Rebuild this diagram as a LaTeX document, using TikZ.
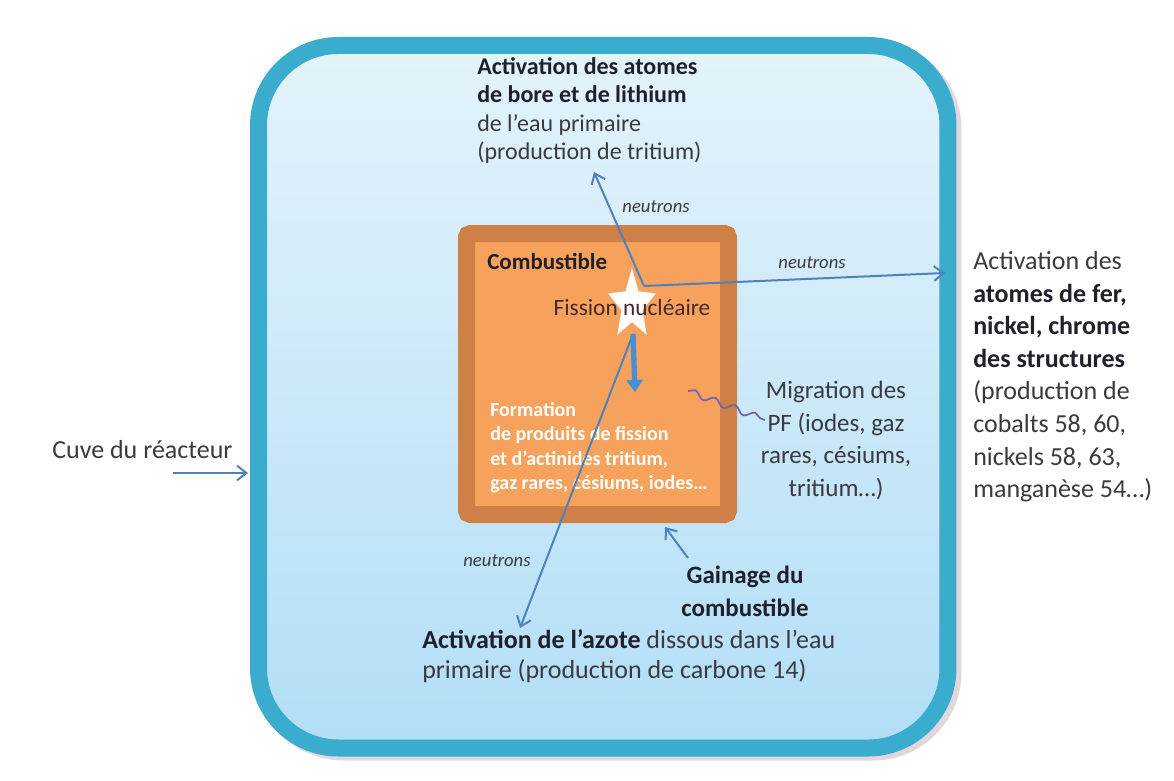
\documentclass[tikz,border=0pt]{standalone}
\usepackage{fontspec}
\setmainfont{Carlito}
\usetikzlibrary{arrows.meta,decorations.pathmorphing}
\definecolor{vessel}{RGB}{58,172,206}
\definecolor{watertop}{RGB}{228,243,251}
\definecolor{waterbot}{RGB}{178,222,246}
\definecolor{clad}{RGB}{206,128,70}
\definecolor{fuel}{RGB}{247,162,92}
\definecolor{arr}{RGB}{79,129,189}
\definecolor{thick}{RGB}{72,142,210}
\definecolor{txt}{RGB}{58,58,64}
\definecolor{txtb}{RGB}{32,32,44}
\definecolor{wave}{RGB}{112,100,175}
\definecolor{fistxt}{RGB}{70,40,40}
\definecolor{shadow}{RGB}{225,215,220}
\begin{document}
\begin{tikzpicture}[x=0.75pt,y=-0.75pt,
  lbl/.style={inner sep=0pt, text=txt, align=left},
  big/.style={font=\fontsize{19.5}{24.4}\selectfont},
  neu/.style={inner sep=0pt, text=txt, font=\fontsize{14}{16}\selectfont\itshape},
  narrow/.style={draw=arr, line width=1.5pt, -{Straight Barb[length=7pt,width=11pt,line width=1.5pt]}}
]
\useasboundingbox (0,0) rectangle (1174,781);
\fill[white] (0,0) rectangle (1174,781);

% soft shadow of the vessel
\node (vshadow) [draw=shadow, line width=12.75pt, rounded corners=60pt, inner sep=0pt, outer sep=0pt,
  minimum width=517.1pt, minimum height=526.9pt] at (608.25,400.75) {};

% reactor vessel
\node (vessel) [draw=vessel, line width=12.75pt, rounded corners=60pt,
  top color=watertop, bottom color=waterbot, inner sep=0pt, outer sep=0pt,
  minimum width=517.1pt, minimum height=526.9pt] at (603.25,396.75) {};

% fuel cladding and fuel
\node (clad) [draw=clad, fill=fuel, line width=12.75pt, rounded corners=3pt,
  inner sep=0pt, minimum width=196.5pt, minimum height=210.75pt] at (597.5,374) {};

% star (nuclear fission)
\coordinate (fis) at (632,305);
\fill[white] (fis) +(270:25 and 37)
  \foreach \k in {0,...,4} { -- +({306+72*\k}:11 and 17) -- +({342+72*\k}:25 and 37) } -- cycle;

\node (comb) [inner sep=0pt, anchor=north west, text=txtb,
  font=\fontsize{17.25}{20}\selectfont\bfseries] at (487,253) {Combustible};
\node (fission) [inner sep=0pt, text=fistxt, font=\fontsize{17.5}{20}\selectfont] at (632,307) {Fission nucléaire};
\node (form) [inner sep=0pt, anchor=north west, align=left, text=white,
  font=\fontsize{15}{18.4}\selectfont\bfseries] at (490,402)
  {Formation\\ de produits de fission\\ et d’actinides tritium,\\ gaz rares, césiums, iodes…};

% text blocks
\node (top) [lbl, anchor=north west, font=\fontsize{18}{21.4}\selectfont] at (477,57)
  {\textcolor{txtb}{\bfseries Activation des atomes}\\ \textcolor{txtb}{\bfseries de bore et de lithium}\\ de l’eau primaire\\ (production de tritium)};
\node (right) [lbl, big, anchor=north west] at (973,251.5)
  {Activation des\\ \textcolor{txtb}{\bfseries atomes de fer,}\\ \textcolor{txtb}{\bfseries nickel, chrome}\\ \textcolor{txtb}{\bfseries des structures}\\ (production de\\ cobalts 58, 60,\\ nickels 58, 63,\\ manganèse 54…)};
\node (migr) [lbl, align=center, anchor=north, font=\fontsize{18.75}{24.4}\selectfont] at (836,381)
  {Migration des\\ PF (iodes, gaz\\ rares, césiums,\\ tritium…)};
\node (gain) [lbl, align=center, anchor=north, text=txtb, font=\fontsize{18.75}{24.8}\selectfont\bfseries] at (745,566)
  {Gainage du\\ combustible};
\node (azote) [lbl, anchor=north west, font=\fontsize{19.5}{22.5}\selectfont] at (422,629)
  {\textcolor{txtb}{\bfseries Activation de l’azote} dissous dans l’eau\\ primaire (production de carbone 14)};
\node (cuve) [lbl, big, anchor=north west] at (52,440) {Cuve du réacteur};

% neutron labels
\node (n1) [neu] at (656,207) {neutrons};
\node (n2) [neu] at (812,263) {neutrons};
\node (n3) [neu] at (497,561) {neutrons};

% connectors
\coordinate (hub) at (644,286);
\coordinate (fisbot) at (633,334);
\coordinate (topend) at (594,172);
\coordinate (rightend) at (945,273);
\coordinate (azend) at (520,628);
\draw[narrow] (hub) -- (topend);
\draw[narrow] (hub) -- (rightend);
\draw[narrow] (fisbot) -- (azend);

\coordinate (thickend) at (635,392);
\draw[line width=4pt, -{Triangle[length=9pt,width=12pt]}, draw=thick, fill=thick] (fisbot) -- (thickend);

\coordinate (wavestart) at (688,391);
\coordinate (waveend) at (765,420);
\draw[wave, line width=1.3pt, decorate, decoration={snake, amplitude=2.5pt, segment length=16pt}] (wavestart) -- (waveend);

\coordinate (gaintail) at (688,558);
\coordinate (gaintip) at (665,527);
\draw[narrow] (gaintail) -- (gaintip);

\coordinate (cuvetail) at (173,473);
\coordinate (cuvetip) at (248,473);
\draw[narrow] (cuvetail) -- (cuvetip);
\end{tikzpicture}
\end{document}
